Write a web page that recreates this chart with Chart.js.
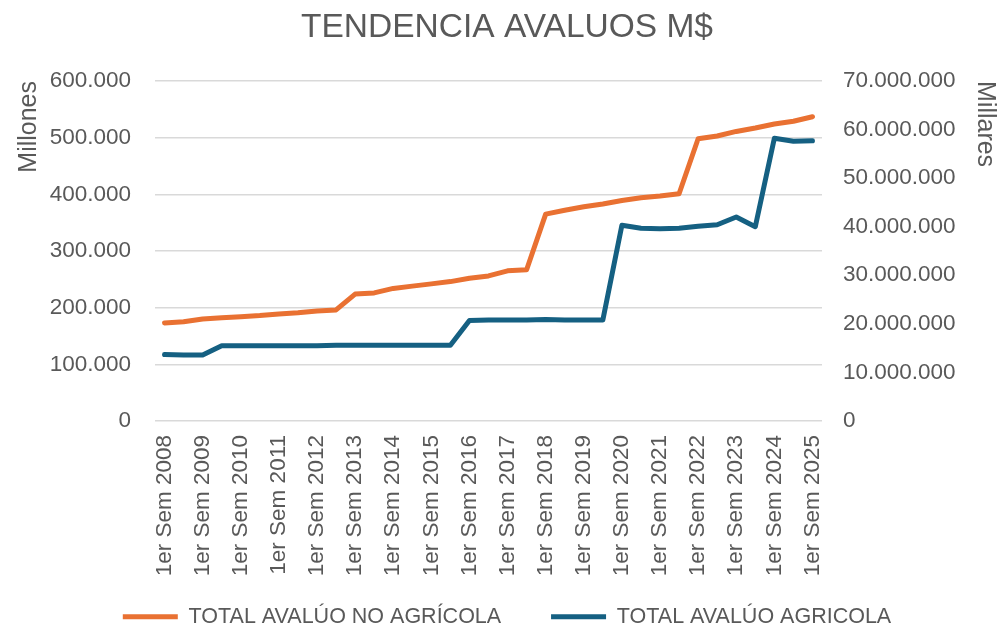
<!DOCTYPE html>
<html lang="es">
<head>
<meta charset="utf-8">
<title>Tendencia Avaluos</title>
<script src="https://cdn.jsdelivr.net/npm/chart.js@4/dist/chart.umd.min.js"></script>
<style>
  html, body { margin: 0; padding: 0; background: #ffffff; }
  canvas { display: block; }
</style>
</head>
<body>
<canvas id="avaluosChart" width="1000" height="628"></canvas>
<script>
// semestres 2008 - 2025
const semestres = [
    '1er Sem 2008', '2do Sem 2008', '1er Sem 2009', '2do Sem 2009',
    '1er Sem 2010', '2do Sem 2010', '1er Sem 2011', '2do Sem 2011',
    '1er Sem 2012', '2do Sem 2012', '1er Sem 2013', '2do Sem 2013',
    '1er Sem 2014', '2do Sem 2014', '1er Sem 2015', '2do Sem 2015',
    '1er Sem 2016', '2do Sem 2016', '1er Sem 2017', '2do Sem 2017',
    '1er Sem 2018', '2do Sem 2018', '1er Sem 2019', '2do Sem 2019',
    '1er Sem 2020', '2do Sem 2020', '1er Sem 2021', '2do Sem 2021',
    '1er Sem 2022', '2do Sem 2022', '1er Sem 2023', '2do Sem 2023',
    '1er Sem 2024', '2do Sem 2024', '1er Sem 2025'
];

// eje izquierdo, en millones
const noAgricola = [
    173000, 175000, 180000, 182000, 184000, 186000, 189000, 191000,
    194000, 196000, 224000, 226000, 234000, 238000, 242000, 246000,
    252000, 256000, 265000, 267000, 365000, 372000, 378000, 383000,
    389000, 394000, 397000, 401000, 498000, 503000, 511000, 517000,
    524000, 529000, 537000
];

// eje derecho, en millares
const agricola = [
    13700000, 13600000, 13600000, 15500000, 15500000, 15500000, 15500000, 15500000,
    15500000, 15600000, 15600000, 15600000, 15600000, 15600000, 15600000, 15600000,
    20700000, 20800000, 20800000, 20800000, 20900000, 20800000, 20800000, 20800000,
    40300000, 39700000, 39600000, 39700000, 40100000, 40400000, 42000000, 40000000,
    58200000, 57600000, 57700000
];

const leftTicks = { min: 0, max: 600000, step: 100000 };
const rightTicks = { min: 0, max: 70000000, step: 10000000 };

const GRIS = '#595959';
const FUENTE = "'Liberation Sans', Arial, sans-serif";

function formatoMiles(value) {
    return String(Math.round(value)).replace(/\B(?=(\d{3})+(?!\d))/g, '.');
}

const ctx = document.getElementById('avaluosChart');

new Chart(ctx, {
    type: 'line',
    data: {
        labels: semestres,
        datasets: [
            {
                label: 'TOTAL AVALÚO NO AGRÍCOLA',
                data: noAgricola,
                yAxisID: 'y',
                borderColor: '#E97132',
                backgroundColor: '#E97132',
                borderWidth: 5,
                borderCapStyle: 'round',
                borderJoinStyle: 'round',
                pointRadius: 0,
                tension: 0,
                fill: false
            },
            {
                label: 'TOTAL AVALÚO AGRICOLA',
                data: agricola,
                yAxisID: 'y1',
                borderColor: '#156082',
                backgroundColor: '#156082',
                borderWidth: 5,
                borderCapStyle: 'round',
                borderJoinStyle: 'round',
                pointRadius: 0,
                tension: 0,
                fill: false
            }
        ]
    },
    options: {
        responsive: false,
        animation: false,
        devicePixelRatio: 1,
        layout: { padding: { left: 14, right: 0, top: 0, bottom: 0 } },
        plugins: {
            title: {
                display: true,
                text: 'TENDENCIA AVALUOS M$',
                color: GRIS,
                font: { family: FUENTE, size: 33.5, weight: 'normal' },
                padding: { top: 8, bottom: 32.8 }
            },
            legend: {
                position: 'bottom',
                maxHeight: 48,
                labels: {
                    usePointStyle: true,
                    pointStyle: 'line',
                    pointStyleWidth: 55,
                    padding: 26,
                    color: GRIS,
                    font: { family: FUENTE, size: 21.5 },
                    // un poco mas de aire despues del primer elemento
                    generateLabels: function(chart) {
                        const items = Chart.defaults.plugins.legend.labels.generateLabels(chart);
                        items.forEach((item, i) => {
                            if (i === 0) item.text = item.text + '    ';
                        });
                        return items;
                    }
                }
            },
            tooltip: { enabled: false }
        },
        scales: {
            x: {
                offset: true,
                grid: { display: false, drawTicks: false },
                border: { display: false },
                ticks: {
                    autoSkip: false,
                    minRotation: 90,
                    maxRotation: 90,
                    padding: 14,
                    color: GRIS,
                    font: { family: FUENTE, size: 22.5 },
                    callback: function(val, index) {
                        return index % 2 === 0 ? this.getLabelForValue(val) : '';
                    }
                },
                afterFit: function(scale) { scale.height = 159; }
            },
            y: {
                position: 'left',
                min: leftTicks.min,
                max: leftTicks.max,
                grid: { color: '#d9d9d9', lineWidth: 1.5, drawTicks: false },
                border: { display: false },
                ticks: {
                    stepSize: leftTicks.step,
                    padding: 24,
                    color: GRIS,
                    font: { family: FUENTE, size: 22.5 },
                    callback: function(value) { return formatoMiles(value); }
                },
                title: {
                    display: true,
                    text: 'Millones',
                    align: 'end',
                    color: GRIS,
                    font: { family: FUENTE, size: 25 },
                    padding: { top: 0, bottom: 0 }
                },
                afterFit: function(scale) { scale.width = 141; }
            },
            y1: {
                position: 'right',
                min: rightTicks.min,
                max: rightTicks.max,
                grid: { display: false, drawTicks: false },
                border: { display: false },
                ticks: {
                    stepSize: rightTicks.step,
                    padding: 21,
                    color: GRIS,
                    font: { family: FUENTE, size: 22.5 },
                    callback: function(value) { return formatoMiles(value); }
                },
                title: {
                    display: true,
                    text: 'Millares',
                    align: 'end',
                    color: GRIS,
                    font: { family: FUENTE, size: 25 },
                    padding: { top: 0, bottom: 0 }
                },
                afterFit: function(scale) { scale.width = 178; }
            }
        }
    }
});
</script>
</body>
</html>
